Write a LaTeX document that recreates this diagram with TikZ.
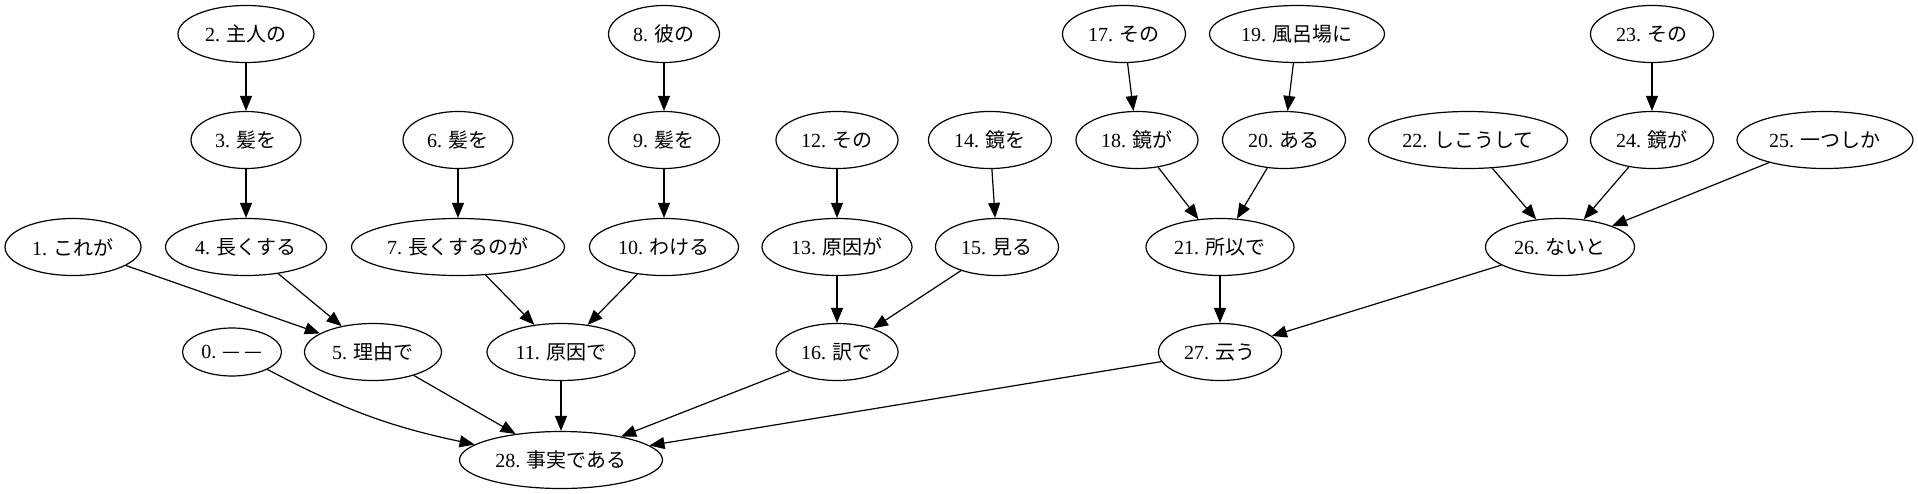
\documentclass[tikz,border=0pt]{standalone}
\usepackage{fontspec}
\setmainfont{Liberation Serif}
\newfontfamily\jp{Noto Sans CJK JP}
\usetikzlibrary{arrows.meta,shapes.geometric}
\tikzset{>={Triangle[length=7.5pt,width=6pt]}}
\tikzset{tok/.style={ellipse,draw,inner sep=1pt,minimum height=28.5pt,font=\fontsize{10}{12}\selectfont}}

\begin{document}
\begin{tikzpicture}[x=0.5pt,y=-0.5pt,semithick]
\useasboundingbox (0,0) rectangle (1918,493);
% tokens: number/x/y/width/word
\node[tok,minimum width=49.5pt,minimum height=24pt] (n0) at (232,352) {0. {\jp —}\hspace{2pt}{\jp —}};
\foreach \i/\x/\y/\w/\t in {1/73/247/68/これが, 2/246/34/68/主人の, 3/246/140/55/髪を,
  4/246/247/80.5/長くする, 5/373/352/68.5/理由で, 6/458/140/55/髪を, 7/458/247/106.5/長くするのが,
  8/664/34/55.5/彼の, 9/664/140/55.5/髪を, 10/664/247/74.5/わける, 11/561/352/74/原因で,
  12/837/140/61/その, 13/837/247/75/原因が, 14/990/140/61.5/鏡を, 15/997/247/61.5/見る,
  16/837/352/61/訳で, 17/1124/34/61.5/その, 18/1137/140/61/鏡が, 19/1297/34/87.5/風呂場に,
  20/1284/140/61.5/ある, 21/1220/247/74/所以で, 22/1468/140/99.5/しこうして, 23/1652/34/61.5/その,
  24/1652/140/61.5/鏡が, 25/1825/140/88/一つしか, 26/1560/247/74.5/ないと, 27/1220/352/61.5/云う,
  28/561/460/101.5/事実である}
  \node[tok,minimum width=\w pt] (n\i) at (\x,\y) {\i. {\jp \t}};
% dependencies
\foreach \a/\b in {2/3, 3/4, 1/5, 4/5, 6/7, 7/11, 8/9, 9/10, 10/11, 12/13, 13/16, 14/15, 15/16,
  17/18, 19/20, 18/21, 20/21, 21/27, 22/26, 23/24, 24/26, 25/26, 26/27, 5/28, 11/28, 16/28, 27/28}
  \draw[->] (n\a) -- (n\b);
\draw[->] (n0) to[bend right=8] (n28);
\end{tikzpicture}
\end{document}
